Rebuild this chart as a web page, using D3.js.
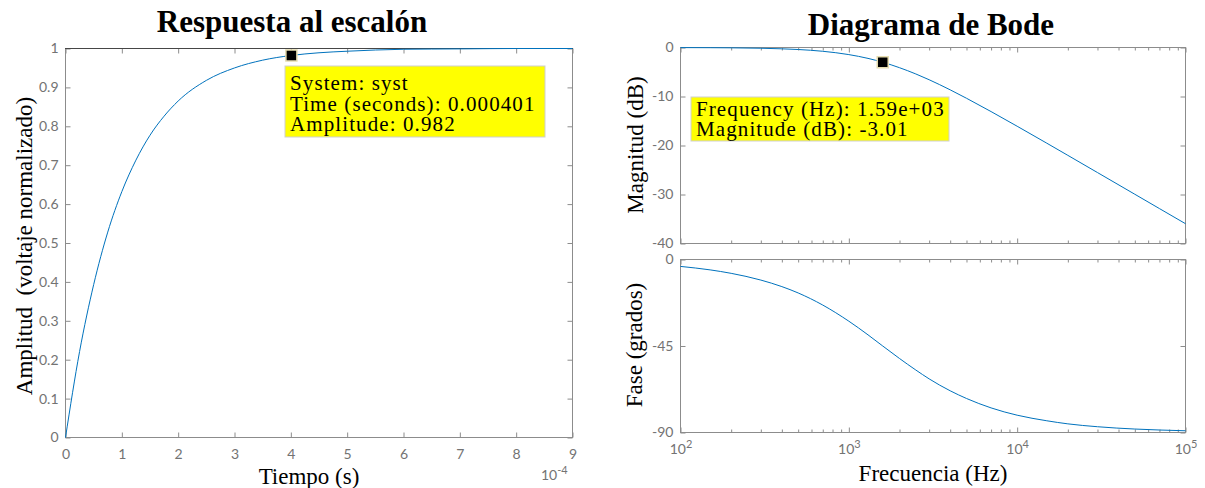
<!DOCTYPE html>
<html>
<head>
<meta charset="utf-8">
<script src="https://cdn.jsdelivr.net/npm/d3@7"></script>
<style>
body{margin:0;background:#fff;}
.tick text{font-family:Lato,"Open Sans",sans-serif;font-size:14px;fill:#737373;}
.tick line{stroke:#8c8c8c;}
.domain{display:none;}
.lbl{font-family:"Liberation Serif","Times New Roman",serif;font-size:23px;fill:#000;}
.ttl{font-family:"Liberation Serif","Times New Roman",serif;font-weight:bold;font-size:31px;fill:#000;}
.tip{font-family:"Liberation Serif","Times New Roman",serif;font-size:21px;letter-spacing:1.1px;fill:#000;}
.mult{font-family:Lato,"Open Sans",sans-serif;font-size:14px;fill:#737373;}
</style>
</head>
<body>
<svg id="chart" width="1205" height="488"></svg>
<script>
// step response (time in s)
let stepTime = [0, 0.000025, 0.00005, 0.000075, 0.0001, 0.000125, 0.00015, 0.000175, 0.0002, 0.00025,
    0.0003, 0.00035, 0.0004, 0.00045, 0.0005, 0.0006, 0.0007, 0.0008, 0.0009];
let stepAmp = [0, 0.221, 0.393, 0.528, 0.632, 0.713, 0.777, 0.826, 0.865, 0.918,
    0.950, 0.970, 0.982, 0.989, 0.993, 0.998, 0.999, 1.0, 1.0];
let timeTicks = [0, 1, 2, 3, 4, 5, 6, 7, 8, 9];   // x 10^-4
let ampTicks = [0, 0.1, 0.2, 0.3, 0.4, 0.5, 0.6, 0.7, 0.8, 0.9, 1];

// bode
let bodeFreq = [100, 150, 200, 300, 400, 500, 700, 1000, 1300, 1590, 2000, 2500, 3000, 4000,
    5000, 7000, 10000, 15000, 20000, 30000, 50000, 70000, 100000];
let bodeMag = [-0.02, -0.04, -0.07, -0.15, -0.27, -0.41, -0.77, -1.45, -2.22, -3.01, -4.12, -5.40, -6.58, -8.64,
    -10.36, -13.08, -16.07, -19.53, -22.01, -25.52, -29.95, -32.87, -35.96];
let bodePhase = [-3.6, -5.4, -7.2, -10.7, -14.1, -17.4, -23.7, -32.1, -39.2, -45.0, -51.5, -57.5, -62.1, -68.3,
    -72.3, -77.2, -81.0, -83.9, -85.5, -87.0, -88.2, -88.7, -89.1];
let freqDecades = [100, 1000, 10000, 100000];
let magTicks = [0, -10, -20, -30, -40];
let phaseTicks = [0, -45, -90];

// data tips
let stepTip = [0.000401, 0.982];
let stepTipText = ["System: syst", "Time (seconds): 0.000401", "Amplitude: 0.982"];
let bodeTip = [1590, -3.01];
let bodeTipText = ["Frequency (Hz): 1.59e+03", "Magnitude (dB): -3.01"];

const svg = d3.select("#chart");
const blue = "#0072bd";
const grey = "#8c8c8c";

function drawBox(x, y) {
    let [x0, x1] = x.range(), [y0, y1] = y.range();
    svg.append("rect").attr("x", x0).attr("y", y1).attr("width", x1 - x0).attr("height", y0 - y1)
        .attr("fill", "none").attr("stroke", grey);
}

function yTicksBoth(x, y, vals) {
    svg.append("g").attr("transform", `translate(${x.range()[0]},0)`)
        .call(d3.axisLeft(y).tickValues(vals).tickFormat(d => d)
            .tickSizeInner(-5).tickSizeOuter(0).tickPadding(7));
    svg.append("g").attr("transform", `translate(${x.range()[1]},0)`)
        .call(d3.axisRight(y).tickValues(vals).tickSizeInner(-5).tickSizeOuter(0).tickFormat(""));
}

function logTicks(x, y, withLabels) {
    let minor = x.ticks().filter(v => !freqDecades.includes(v));
    let bottom = y.range()[0], top = y.range()[1];
    let ax = svg.append("g").attr("transform", `translate(0,${bottom})`)
        .call(d3.axisBottom(x).tickValues(freqDecades).tickSizeInner(-5).tickSizeOuter(0).tickPadding(12)
            .tickFormat(withLabels ? (d => d) : ""));
    svg.append("g").attr("transform", `translate(0,${bottom})`)
        .call(d3.axisBottom(x).tickValues(minor).tickSizeInner(-3).tickSizeOuter(0).tickFormat(""));
    svg.append("g").attr("transform", `translate(0,${top})`)
        .call(d3.axisTop(x).tickValues(freqDecades).tickSizeInner(-5).tickSizeOuter(0).tickFormat(""));
    svg.append("g").attr("transform", `translate(0,${top})`)
        .call(d3.axisTop(x).tickValues(minor).tickSizeInner(-3).tickSizeOuter(0).tickFormat(""));
    if (withLabels) {
        ax.selectAll(".tick text").each(function(d) {
            let t = d3.select(this).text("");
            t.append("tspan").text("10");
            t.append("tspan").attr("dy", "-0.55em").style("font-size", "11px").text(Math.round(Math.log10(d)));
        });
    }
}

function dataTip(px, py, bx, by, bw, bh, lines, first, gap) {
    svg.append("rect").attr("x", bx).attr("y", by).attr("width", bw).attr("height", bh)
        .attr("fill", "#ffff00").attr("stroke", "#cfcfcf");
    lines.forEach((l, i) => svg.append("text").attr("class", "tip")
        .attr("x", bx + 5).attr("y", by + first + i * gap).text(l));
    svg.append("rect").attr("x", px - 5.5).attr("y", py - 5.5).attr("width", 11).attr("height", 11)
        .attr("fill", "#000").attr("stroke", "#e6ddb0").attr("stroke-width", 1.5);
}

//#region step response
let xStep = d3.scaleLinear().domain([0, 0.0009]).range([65.5, 572.5]);
let yStep = d3.scaleLinear().domain([0, 1]).range([437.5, 48.5]);

drawBox(xStep, yStep);
svg.append("g").attr("transform", `translate(0,${yStep.range()[0]})`)
    .call(d3.axisBottom(xStep).tickValues(timeTicks.map(v => v * 1e-4)).tickFormat((d, i) => timeTicks[i])
        .tickSizeInner(-5).tickSizeOuter(0).tickPadding(12));
svg.append("g").attr("transform", `translate(0,${yStep.range()[1]})`)
    .call(d3.axisTop(xStep).tickValues(timeTicks.map(v => v * 1e-4)).tickSizeInner(-5).tickSizeOuter(0).tickFormat(""));
yTicksBoth(xStep, yStep, ampTicks);

// final value line
svg.append("line").attr("x1", xStep(0)).attr("x2", xStep(0.0009)).attr("y1", yStep(1)).attr("y2", yStep(1))
    .attr("stroke", "#000").attr("stroke-dasharray", "1,1");

svg.append("path").datum(stepTime.map((t, i) => [t, stepAmp[i]]))
    .attr("fill", "none").attr("stroke", blue).attr("stroke-width", 1)
    .attr("d", d3.line().x(d => xStep(d[0])).y(d => yStep(d[1])).curve(d3.curveMonotoneX));

let mult = svg.append("text").attr("class", "mult").attr("x", 541).attr("y", 480);
mult.append("tspan").text("10");
mult.append("tspan").attr("dy", "-0.55em").style("font-size", "11px").text("-4");

svg.append("text").attr("class", "ttl").attr("x", 292).attr("y", 32).attr("text-anchor", "middle").text("Respuesta al escalón");
svg.append("text").attr("class", "lbl").attr("x", 309).attr("y", 484).attr("text-anchor", "middle").text("Tiempo (s)");
svg.append("text").attr("class", "lbl").attr("transform", "translate(32,246) rotate(-90)")
    .attr("text-anchor", "middle").style("white-space", "pre").text("Amplitud  (voltaje normalizado)");

dataTip(xStep(stepTip[0]), yStep(stepTip[1]), 285, 66, 260, 71, stepTipText, 24, 20.5);
//#endregion

//#region bode
let xFreq = d3.scaleLog().domain([100, 100000]).range([680.5, 1185.5]);
let yMag = d3.scaleLinear().domain([-40, 0]).range([243.5, 47.5]);
let yPhase = d3.scaleLinear().domain([-90, 0]).range([432.5, 259.5]);

drawBox(xFreq, yMag);
logTicks(xFreq, yMag, false);
yTicksBoth(xFreq, yMag, magTicks);
svg.append("path").datum(bodeFreq.map((f, i) => [f, bodeMag[i]]))
    .attr("fill", "none").attr("stroke", blue).attr("stroke-width", 1)
    .attr("d", d3.line().x(d => xFreq(d[0])).y(d => yMag(d[1])).curve(d3.curveMonotoneX));

drawBox(xFreq, yPhase);
logTicks(xFreq, yPhase, true);
yTicksBoth(xFreq, yPhase, phaseTicks);
svg.append("path").datum(bodeFreq.map((f, i) => [f, bodePhase[i]]))
    .attr("fill", "none").attr("stroke", blue).attr("stroke-width", 1)
    .attr("d", d3.line().x(d => xFreq(d[0])).y(d => yPhase(d[1])).curve(d3.curveMonotoneX));

svg.append("text").attr("class", "ttl").attr("x", 931).attr("y", 35).attr("text-anchor", "middle").text("Diagrama de Bode");
svg.append("text").attr("class", "lbl").attr("x", 933).attr("y", 481).attr("text-anchor", "middle").text("Frecuencia (Hz)");
svg.append("text").attr("class", "lbl").attr("transform", "translate(643,145) rotate(-90)")
    .attr("text-anchor", "middle").text("Magnitud (dB)");
svg.append("text").attr("class", "lbl").attr("transform", "translate(642,345) rotate(-90)")
    .attr("text-anchor", "middle").text("Fase (grados)");

dataTip(xFreq(bodeTip[0]), yMag(bodeTip[1]), 691, 97, 258, 44, bodeTipText, 19, 20);
//#endregion
</script>
</body>
</html>
